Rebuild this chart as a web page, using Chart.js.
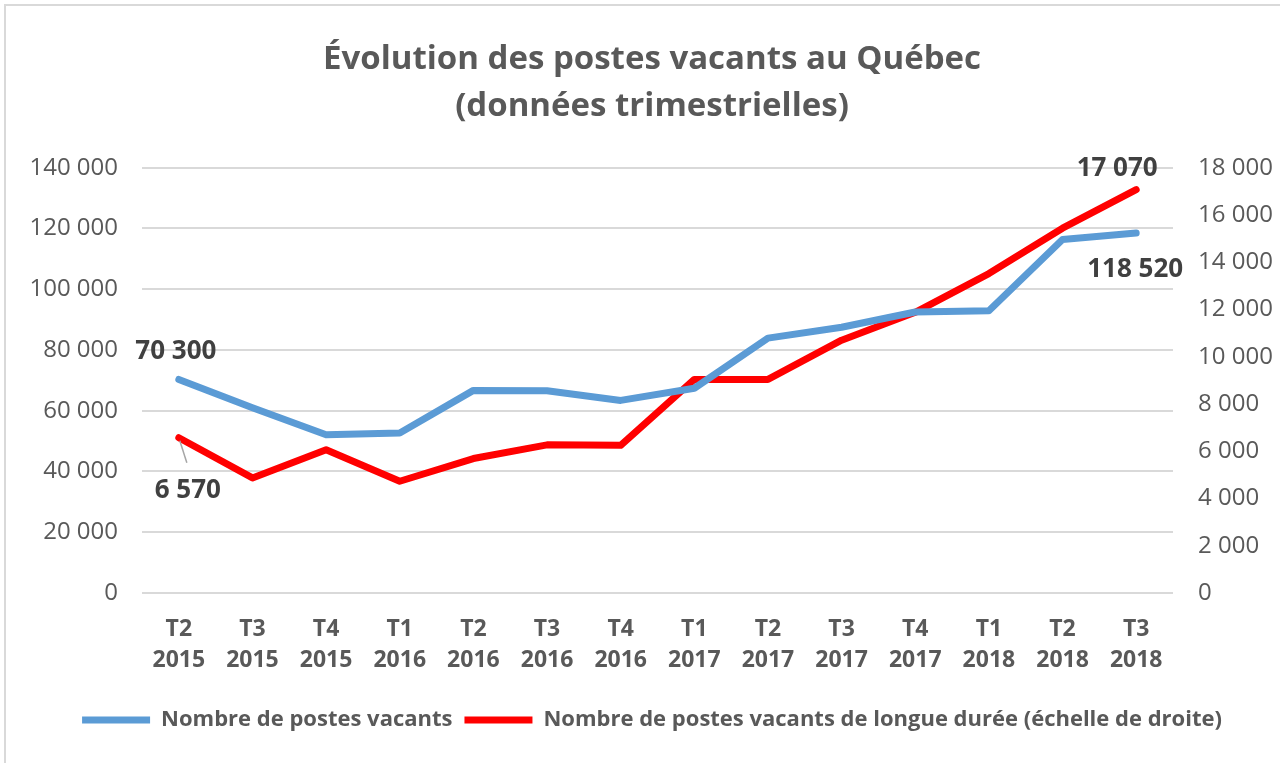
<!DOCTYPE html>
<html lang="fr">
<head>
<meta charset="utf-8">
<script src="https://cdn.jsdelivr.net/npm/chart.js@4/dist/chart.umd.min.js"></script>
<style>
  html, body { margin: 0; padding: 0; background: #fff; overflow: hidden; }
  #frame { position: absolute; left: 4px; top: 4px; width: 1300px; height: 800px; border: 2px solid #d9d9d9; }
  #wrap { position: absolute; left: 0; top: 0; width: 1280px; height: 763px; }
</style>
</head>
<body>
<div id="frame"></div>
<div id="wrap"><canvas id="chart" width="1280" height="763"></canvas></div>
<script>
// données trimestrielles
const quarters = ['T2', 'T3', 'T4', 'T1', 'T2', 'T3', 'T4', 'T1', 'T2', 'T3', 'T4', 'T1', 'T2', 'T3'];
const years = ['2015', '2015', '2015', '2016', '2016', '2016', '2016', '2017', '2017', '2017', '2017', '2018', '2018', '2018'];
const postesVacants = [70300, 61000, 52100, 52700, 66700, 66600, 63400, 67400, 83900, 87500, 92500, 92900, 116400, 118520];
const postesLongueDuree = [6570, 4870, 6060, 4730, 5690, 6270, 6250, 9040, 9040, 10700, 11880, 13520, 15440, 17070];
const leftTicks = { min: 0, max: 140000, step: 20000 };
const rightTicks = { min: 0, max: 18000, step: 2000 };

const grey = '#595959';
const labelGrey = '#404040';
const fmt = v => String(v).replace(/\B(?=(\d{3})+(?!\d))/g, ' ');

// étiquettes de valeurs (premier et dernier point)
const valueLabels = {
  id: 'valueLabels',
  afterDatasetsDraw(chart) {
    const ctx = chart.ctx;
    const blue = chart.getDatasetMeta(0).data;
    const red = chart.getDatasetMeta(1).data;
    const last = blue.length - 1;
    ctx.save();
    // trait de rappel pour 6 570
    ctx.strokeStyle = '#a6a6a6';
    ctx.lineWidth = 1.5;
    ctx.beginPath();
    ctx.moveTo(red[0].x + 1, red[0].y + 3);
    ctx.lineTo(red[0].x + 8, red[0].y + 25);
    ctx.stroke();

    ctx.font = 'bold 26px "Open Sans"';
    ctx.fillStyle = labelGrey;
    ctx.textAlign = 'center';
    ctx.textBaseline = 'middle';
    ctx.fillText(fmt(postesVacants[0]), blue[0].x - 3, blue[0].y - 28);
    ctx.fillText(fmt(postesLongueDuree[0]), red[0].x + 9, red[0].y + 53);
    ctx.fillText(fmt(postesLongueDuree[last]), red[last].x - 19, red[last].y - 21);
    ctx.fillText(fmt(postesVacants[last]), blue[last].x - 1, blue[last].y + 37);
    ctx.restore();
  }
};

new Chart(document.getElementById('chart'), {
  type: 'line',
  data: {
    labels: quarters.map((q, i) => [q, years[i]]),
    datasets: [
      {
        label: 'Nombre de postes vacants',
        data: postesVacants,
        yAxisID: 'y',
        borderColor: '#5b9bd5',
        backgroundColor: '#5b9bd5',
        borderWidth: 7,
        borderCapStyle: 'round',
        borderJoinStyle: 'round',
        pointRadius: 0,
        tension: 0
      },
      {
        label: 'Nombre de postes vacants de longue durée (échelle de droite)',
        data: postesLongueDuree,
        yAxisID: 'y1',
        borderColor: '#ff0000',
        backgroundColor: '#ff0000',
        borderWidth: 7,
        borderCapStyle: 'round',
        borderJoinStyle: 'round',
        pointRadius: 0,
        tension: 0
      }
    ]
  },
  options: {
    responsive: false,
    animation: false,
    layout: { padding: { left: 24, right: 0, top: 0, bottom: 22 } },
    plugins: {
      title: {
        display: true,
        text: ['Évolution des postes vacants au Québec', '(données trimestrielles)'],
        color: grey,
        font: { family: 'Open Sans', size: 33, weight: 'bold', lineHeight: 1.42 },
        padding: { top: 36, bottom: 38 }
      },
      legend: {
        position: 'bottom',
        labels: {
          usePointStyle: true,
          pointStyle: 'line',
          pointStyleWidth: 68,
          boxHeight: 22,
          padding: 12,
          color: grey,
          font: { family: 'Open Sans', size: 22, weight: 'bold' }
        }
      },
      tooltip: { enabled: false }
    },
    scales: {
      x: {
        offset: true,
        grid: { display: false, drawTicks: false, offset: true },
        border: { display: false },
        ticks: {
          color: grey,
          padding: 21,
          maxRotation: 0,
          autoSkip: false,
          font: { family: 'Open Sans', size: 23, weight: 'bold', lineHeight: 1.36 }
        },
        afterFit(scale) { scale.height = 104; }
      },
      y: {
        position: 'left',
        min: leftTicks.min,
        max: leftTicks.max,
        grid: { color: '#d9d9d9', lineWidth: 2, drawTicks: false },
        border: { display: false },
        ticks: {
          stepSize: leftTicks.step,
          color: grey,
          padding: 24,
          font: { family: 'Open Sans', size: 24 },
          callback: v => fmt(v)
        },
        afterFit(scale) { scale.width = 118; }
      },
      y1: {
        position: 'right',
        min: rightTicks.min,
        max: rightTicks.max,
        grid: { display: false, drawTicks: false },
        border: { display: false },
        ticks: {
          stepSize: rightTicks.step,
          color: grey,
          padding: 25,
          font: { family: 'Open Sans', size: 24 },
          callback: v => fmt(v)
        },
        afterFit(scale) { scale.width = 107; }
      }
    }
  },
  plugins: [valueLabels]
});
</script>
</body>
</html>
